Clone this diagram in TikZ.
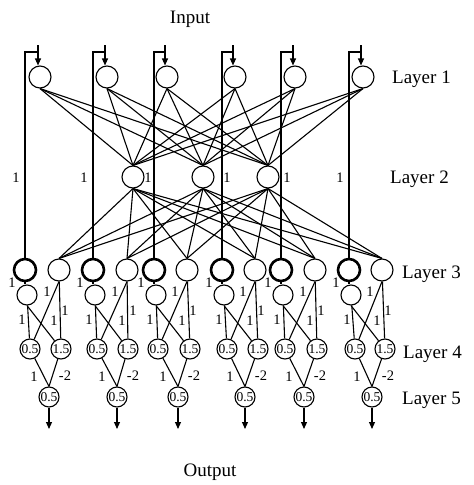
\documentclass[tikz,border=0pt]{standalone}
\usepackage{fontspec}
\setmainfont{Liberation Serif}
\usetikzlibrary{arrows.meta}
\begin{document}
\begin{tikzpicture}[x=1pt,y=-1pt,
  neuron/.style={circle,draw,line width=1.1pt,minimum size=22pt,inner sep=0pt},
  bigneuron/.style={neuron,line width=2.6pt},
  midneuron/.style={neuron,minimum size=20pt},
  small/.style={circle,draw,line width=1.1pt,minimum size=20pt,inner sep=0pt,font=\fontsize{13.5}{13.5}\selectfont},
  wlabel/.style={font=\fontsize{14.5}{14.5}\selectfont,inner sep=0pt},
  layerlabel/.style={font=\fontsize{19}{19}\selectfont,anchor=base west,inner sep=0pt},
  title/.style={font=\fontsize{19}{19}\selectfont,anchor=base,inner sep=0pt},
  conn/.style={line width=1.1pt},
  skip/.style={line width=2.6pt},
  tip/.style={-{Triangle[length=7pt,width=6pt]},line width=1.1pt}
]
\useasboundingbox (0,0) rectangle (474,485);

% layer 2
\node[neuron] (b1) at (133,177) {};
\node[neuron] (b2) at (203,177) {};
\node[neuron] (b3) at (268,177) {};

\foreach \i/\T/\C/\N/\A/\B/\F in {1/25/40/59/30/61/49, 2/93/107/127/97/128/117, 3/154/167/187/158/190/178, 4/222/235/255/227/258/245, 5/281/295/315/285/317/304, 6/349/363/382/355/385/372}{
  \node[neuron] (a\i) at (\C,77) {};
  \node[bigneuron] (t\i) at (\T,270) {};
  \node[neuron] (n\i) at (\N,270) {};
  \node[midneuron] (m\i) at (\T+2,295) {};
  \node[small] (p\i) at (\A,349) {0.5};
  \node[small] (q\i) at (\B,349) {1.5};
  \node[small] (o\i) at (\F,397) {0.5};
  \coordinate (in\i) at (\C-2,45);
  \coordinate (j\i) at (\C-2,52);
  \coordinate (out\i) at (\F,429);
  % input arrow and skip line
  \draw[tip] (in\i) -- (in\i |- a\i.north);
  \draw[skip] (j\i) -| (t\i.north);
  \draw[skip] (t\i.south) -- (t\i.south |- m\i.north);
  % layer 3 -> 4
  \draw[conn] (m\i) -- (p\i);
  \draw[conn] (m\i.south) -- (q\i);
  \draw[conn] (n\i.south) -- (p\i);
  \draw[conn] (n\i) -- (q\i);
  % layer 4 -> 5
  \draw[conn] (p\i) -- (o\i.north);
  \draw[conn] (q\i) -- (o\i.north);
  \draw[tip] (o\i) -- (out\i);
  % labels
  \node[wlabel] (lt\i) at (\T-13,283) {1};
  \node[wlabel] (lv\i) at (\A-8,320) {1};
  \node[wlabel] (ld\i) at (\N-12,292) {1};
  \node[wlabel] (lc\i) at (\N-5,321) {1};
  \node[wlabel] (lr\i) at (\N+6,311) {1};
  \node[wlabel] (lp\i) at (\F-15,377) {1};
  \node[wlabel] (lq\i) at (\F+16,376) {-2};
}

\foreach \i in {1,...,6}{
  \foreach \k in {1,2,3}{
    \draw[conn] (a\i.south) -- (b\k.north);
    \draw[conn] (b\k.south) -- (n\i.north);
  }
}

% labels on the skip lines
\node[wlabel] (s1) at (16,178) {1};
\node[wlabel] (s2) at (84,178) {1};
\node[wlabel] (s3) at (148,178) {1};
\node[wlabel] (s4) at (227,178) {1};
\node[wlabel] (s5) at (287,178) {1};
\node[wlabel] (s6) at (340,178) {1};

\node[title] (input) at (190,23) {Input};
\node[title] (output) at (210,476) {Output};
\node[layerlabel] (L1) at (392,83.5) {Layer 1};
\node[layerlabel] (L2) at (390,183.5) {Layer 2};
\node[layerlabel] (L3) at (402,278) {Layer 3};
\node[layerlabel] (L4) at (403,358) {Layer 4};
\node[layerlabel] (L5) at (402,404) {Layer 5};
\end{tikzpicture}
\end{document}
